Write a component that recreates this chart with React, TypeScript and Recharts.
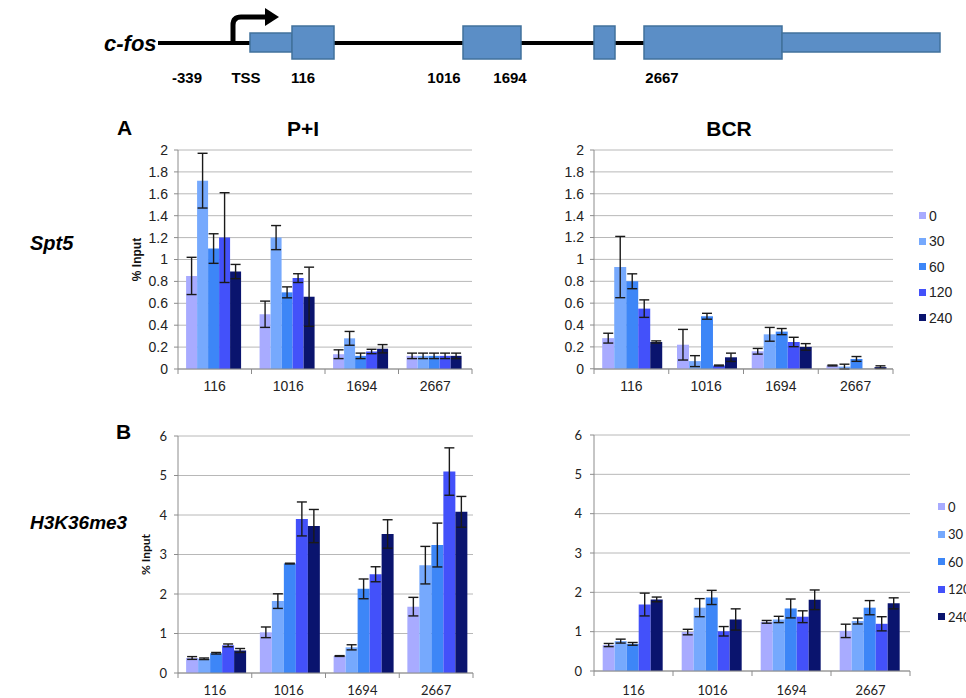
import { BarChart, Bar, XAxis, YAxis, CartesianGrid, ErrorBar, Legend } from "recharts";

const SITES = ["116", "1016", "1694", "2667"];
const TIMES = ["0", "30", "60", "120", "240"];
const COLORS = ["#a8abff", "#76a9fd", "#3d86f7", "#4351fa", "#0a146e"];

// rows = sites, columns = time points
const SPT5_PI = [
  [0.85, 1.72, 1.1, 1.2, 0.89],
  [0.5, 1.2, 0.7, 0.83, 0.66],
  [0.135, 0.28, 0.12, 0.16, 0.185],
  [0.12, 0.12, 0.12, 0.12, 0.12],
];
const SPT5_PI_ERR = [
  [0.17, 0.25, 0.135, 0.41, 0.065],
  [0.12, 0.11, 0.05, 0.04, 0.27],
  [0.04, 0.063, 0.025, 0.02, 0.038],
  [0.025, 0.025, 0.025, 0.025, 0.025],
];
const SPT5_BCR = [
  [0.28, 0.93, 0.8, 0.55, 0.245],
  [0.22, 0.07, 0.48, 0.03, 0.105],
  [0.16, 0.315, 0.34, 0.245, 0.2],
  [0.03, 0.02, 0.09, 0, 0.015],
];
const SPT5_BCR_ERR = [
  [0.045, 0.28, 0.068, 0.08, 0.01],
  [0.14, 0.05, 0.027, 0.004, 0.038],
  [0.026, 0.063, 0.028, 0.043, 0.03],
  [0.004, 0.022, 0.022, 0, 0.012],
];
const H3_PI = [
  [0.38, 0.36, 0.5, 0.7, 0.57],
  [1.03, 1.82, 2.77, 3.9, 3.72],
  [0.43, 0.65, 2.13, 2.5, 3.52],
  [1.68, 2.73, 3.24, 5.1, 4.08],
];
const H3_PI_ERR = [
  [0.035, 0.02, 0.02, 0.035, 0.05],
  [0.135, 0.185, 0.01, 0.43, 0.42],
  [0.01, 0.065, 0.25, 0.19, 0.36],
  [0.235, 0.475, 0.555, 0.6, 0.39],
];
const H3_BCR = [
  [0.66, 0.76, 0.69, 1.69, 1.82],
  [0.99, 1.61, 1.87, 1.01, 1.31],
  [1.25, 1.31, 1.59, 1.38, 1.81],
  [1.02, 1.27, 1.61, 1.2, 1.72],
];
const H3_BCR_ERR = [
  [0.04, 0.05, 0.035, 0.29, 0.06],
  [0.07, 0.23, 0.18, 0.12, 0.27],
  [0.035, 0.08, 0.24, 0.15, 0.25],
  [0.17, 0.075, 0.18, 0.18, 0.14],
];

const SPT5_TICKS = [0, 0.2, 0.4, 0.6, 0.8, 1, 1.2, 1.4, 1.6, 1.8, 2];
const H3_TICKS = [0, 1, 2, 3, 4, 5, 6];

// gene schematic (thin = UTR, thick = coding exon)
const EXONS = [
  { x1: 250, x2: 292, thick: false },
  { x1: 292, x2: 334, thick: true },
  { x1: 463, x2: 521, thick: true },
  { x1: 594, x2: 615, thick: true },
  { x1: 644, x2: 782, thick: true },
  { x1: 782, x2: 940, thick: false },
];
const GENE_LABELS = [
  { text: "-339", x: 187 },
  { text: "TSS", x: 246 },
  { text: "116", x: 303 },
  { text: "1016", x: 444 },
  { text: "1694", x: 510 },
  { text: "2667", x: 662 },
];

const ARIAL = "'Liberation Sans', Arial, sans-serif";
const CALIBRI = "Lato, 'Open Sans', sans-serif";
const GRID = "#b8b8b8";
const AXIS = "#8c8c8c";
const LEGEND_W = 50;

function buildRows(means: number[][], errs: number[][]) {
  return SITES.map((site, i) => {
    const row: Record<string, string | number> = { site };
    TIMES.forEach((_, j) => {
      row[`v${j}`] = means[i][j];
      row[`e${j}`] = errs[i][j];
    });
    return row;
  });
}

function SiteTick(props: any) {
  const { x, y, payload, index, bw, dy, font, size } = props;
  return (
    <g>
      <line x1={x - bw / 2} x2={x - bw / 2} y1={y} y2={y + 5} stroke={AXIS} />
      {index === SITES.length - 1 && (
        <line x1={x + bw / 2} x2={x + bw / 2} y1={y} y2={y + 5} stroke={AXIS} />
      )}
      <text x={x} y={y + dy} textAnchor="middle" fontFamily={font} fontSize={size} fill="#222">
        {payload.value}
      </text>
    </g>
  );
}

function LegendList({ payload, rowH, font, size }: any) {
  const items = [...(payload || [])].sort(
    (a: any, b: any) => TIMES.indexOf(a.value) - TIMES.indexOf(b.value)
  );
  return (
    <div>
      {items.map((it: any) => (
        <div
          key={it.value}
          style={{ height: rowH, display: "flex", alignItems: "center", fontFamily: font, fontSize: size, color: "#222" }}
        >
          <span style={{ width: 7, height: 7, background: it.color, marginRight: 3, display: "inline-block" }} />
          {it.value}
        </div>
      ))}
    </div>
  );
}

interface PanelProps {
  means: number[][];
  errs: number[][];
  ticks: number[];
  left: number;
  top: number;
  width: number;
  height: number;
  yWidth: number;
  marginRight: number;
  xHeight: number;
  labelDy: number;
  font: string;
  size: number;
  yTickMargin: number;
  yLabelOffset?: number;
  legend?: { left: number; top: number; rowH: number; size: number };
}

function Panel(p: PanelProps) {
  const plotW = p.width - p.yWidth - p.marginRight - (p.legend ? LEGEND_W : 0);
  const bw = plotW / SITES.length;
  const rows = buildRows(p.means, p.errs);
  return (
    <div style={{ position: "absolute", left: p.left, top: p.top }}>
      <BarChart
        width={p.width}
        height={p.height}
        data={rows}
        margin={{ top: 10, right: p.marginRight, left: 0, bottom: 0 }}
        barGap={0}
        barCategoryGap="11%"
      >
        <CartesianGrid vertical={false} stroke={GRID} />
        <XAxis
          dataKey="site"
          interval={0}
          height={p.xHeight}
          tickLine={false}
          tickSize={0}
          tickMargin={0}
          axisLine={{ stroke: AXIS }}
          tick={<SiteTick bw={bw} dy={p.labelDy} font={p.font} size={p.size} />}
        />
        <YAxis
          domain={[0, p.ticks[p.ticks.length - 1]]}
          ticks={p.ticks}
          interval={0}
          width={p.yWidth}
          axisLine={{ stroke: AXIS }}
          tickLine={{ stroke: AXIS }}
          tickSize={4}
          tickMargin={p.yTickMargin}
          tick={{ fontFamily: p.font, fontSize: p.size, fill: "#222" }}
          label={
            p.yLabelOffset !== undefined
              ? {
                  value: "% Input",
                  angle: -90,
                  position: "insideLeft",
                  offset: p.yLabelOffset,
                  style: { textAnchor: "middle", fontFamily: p.font, fontSize: 12, fontWeight: "bold", fill: "#111" },
                }
              : undefined
          }
        />
        {TIMES.map((t, j) => (
          <Bar key={t} dataKey={`v${j}`} name={t} fill={COLORS[j]} isAnimationActive={false}>
            <ErrorBar dataKey={`e${j}`} width={5} stroke="#1a1a1a" strokeWidth={1.4} isAnimationActive={false} />
          </Bar>
        ))}
        {p.legend && (
          <Legend
            layout="vertical"
            align="right"
            verticalAlign="top"
            wrapperStyle={{ left: p.legend.left, top: p.legend.top, width: LEGEND_W }}
            content={(props: any) => (
              <LegendList payload={props.payload} rowH={p.legend!.rowH} font={p.font} size={p.legend!.size} />
            )}
          />
        )}
      </BarChart>
    </div>
  );
}

function GeneDiagram() {
  return (
    <g>
      <line x1={158} x2={645} y1={43} y2={43} stroke="#000" strokeWidth={4} />
      <path d="M233 43 V25 Q233 17 241 17 H267" stroke="#000" strokeWidth={5} fill="none" />
      <polygon points="265,8 279,17 265,26" fill="#000" />
      {EXONS.map((e) => (
        <rect
          key={e.x1}
          x={e.x1}
          y={e.thick ? 26 : 33}
          width={e.x2 - e.x1}
          height={e.thick ? 33 : 19}
          fill="#5b8ec6"
          stroke="#41719c"
          strokeWidth={1.5}
        />
      ))}
      <text x={104} y={51} fontFamily={ARIAL} fontSize={22} fontWeight="bold" fontStyle="italic">
        c-fos
      </text>
      {GENE_LABELS.map((l) => (
        <text key={l.text} x={l.x} y={83} textAnchor="middle" fontFamily={ARIAL} fontSize={15} fontWeight="bold">
          {l.text}
        </text>
      ))}
    </g>
  );
}

export default function App() {
  return (
    <div style={{ position: "absolute", left: 0, top: 0, width: 966, height: 698, overflow: "hidden", background: "#fff" }}>
      <Panel
        means={SPT5_PI}
        errs={SPT5_PI_ERR}
        ticks={SPT5_TICKS}
        left={120}
        top={140}
        width={360}
        height={262}
        yWidth={58}
        marginRight={8}
        xHeight={33}
        labelDy={22}
        font={ARIAL}
        size={14}
        yTickMargin={6}
        yLabelOffset={17}
      />
      <Panel
        means={SPT5_BCR}
        errs={SPT5_BCR_ERR}
        ticks={SPT5_TICKS}
        left={550}
        top={140}
        width={416}
        height={262}
        yWidth={44}
        marginRight={23}
        xHeight={33}
        labelDy={22}
        font={ARIAL}
        size={14}
        yTickMargin={6}
        legend={{ left: 369, top: 63, rowH: 25.5, size: 14 }}
      />
      <Panel
        means={H3_PI}
        errs={H3_PI_ERR}
        ticks={H3_TICKS}
        left={120}
        top={426}
        width={361}
        height={272}
        yWidth={58}
        marginRight={8}
        xHeight={25}
        labelDy={22}
        font={CALIBRI}
        size={13}
        yTickMargin={7}
        yLabelOffset={26}
      />
      <Panel
        means={H3_BCR}
        errs={H3_BCR_ERR}
        ticks={H3_TICKS}
        left={550}
        top={425}
        width={416}
        height={273}
        yWidth={44}
        marginRight={6}
        xHeight={27}
        labelDy={24}
        font={CALIBRI}
        size={13}
        yTickMargin={8}
        legend={{ left: 388, top: 68, rowH: 27.5, size: 13 }}
      />
      <svg width={966} height={698} style={{ position: "absolute", left: 0, top: 0, pointerEvents: "none" }}>
        <GeneDiagram />
        <text x={117} y={135} fontFamily={ARIAL} fontSize={21} fontWeight="bold">A</text>
        <text x={303} y={136} textAnchor="middle" fontFamily={ARIAL} fontSize={21} fontWeight="bold">P+I</text>
        <text x={729} y={136} textAnchor="middle" fontFamily={ARIAL} fontSize={21} fontWeight="bold">BCR</text>
        <text x={116} y={439} fontFamily={ARIAL} fontSize={21} fontWeight="bold">B</text>
        <text x={30} y={250} fontFamily={ARIAL} fontSize={20} fontWeight="bold" fontStyle="italic">Spt5</text>
        <text x={30} y={529} fontFamily={ARIAL} fontSize={19} fontWeight="bold" fontStyle="italic">H3K36me3</text>
      </svg>
    </div>
  );
}
